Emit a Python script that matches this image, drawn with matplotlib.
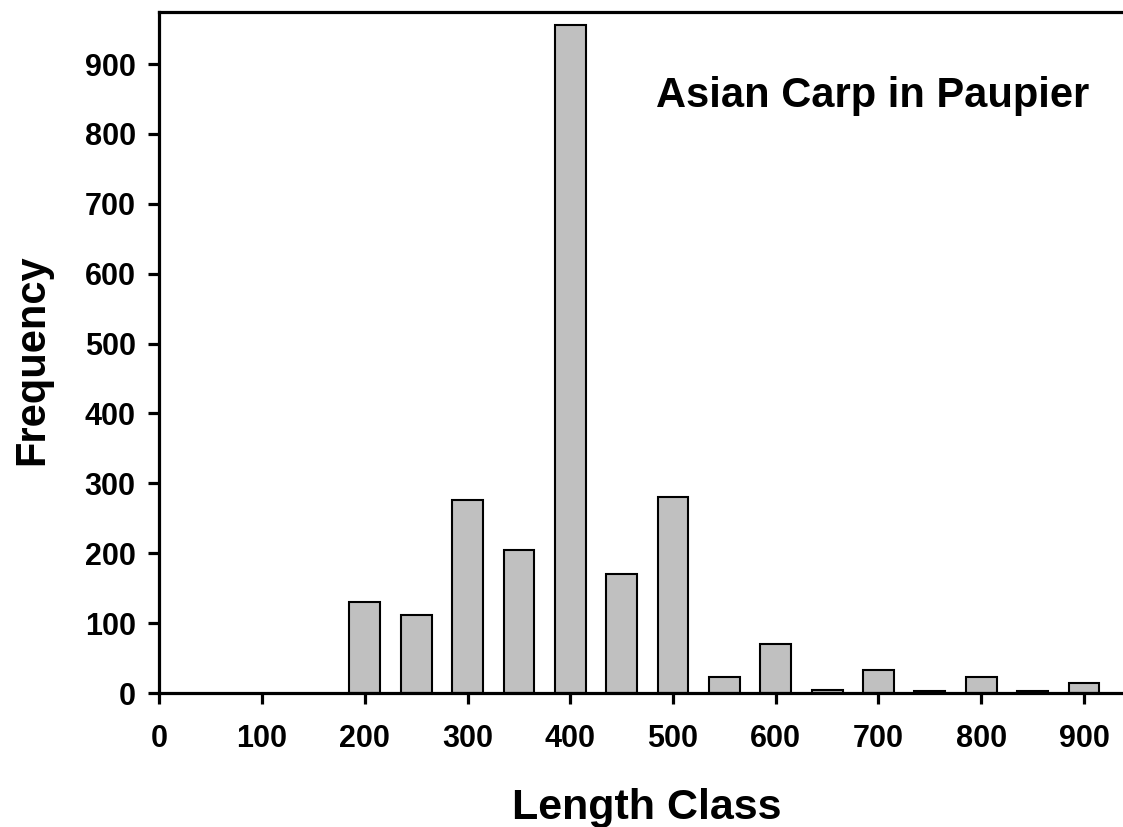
import matplotlib
matplotlib.use("Agg")
import matplotlib.pyplot as plt

# length classes (mm) and counts
length_class = [200, 250, 300, 350, 400, 450, 500, 550, 600, 650, 700, 750, 800, 850, 900]
frequency = [130, 111, 276, 205, 956, 170, 281, 23, 70, 5, 33, 3, 23, 3, 15]

xticks = [0, 100, 200, 300, 400, 500, 600, 700, 800, 900]
yticks = [0, 100, 200, 300, 400, 500, 600, 700, 800, 900]

plt.rcParams['font.family'] = ['Liberation Sans', 'DejaVu Sans']
plt.rcParams['font.weight'] = 'bold'

fig = plt.figure(figsize=(11.23, 8.27), dpi=100)
ax = fig.add_axes([0.1419, 0.1620, 0.8581, 0.8231])

ax.bar(length_class, frequency, width=30, color='#c0c0c0',
       edgecolor='black', linewidth=1.5, zorder=2)

ax.set_xlim(0, 938)
ax.set_ylim(0, 974)
ax.set_xticks(xticks)
ax.set_yticks(yticks)

for side in ['left', 'top', 'bottom']:
    ax.spines[side].set_linewidth(2.3)
ax.spines['right'].set_visible(False)

ax.tick_params(axis='both', direction='out', length=8, width=2.3,
               labelsize=22)
ax.tick_params(axis='x', pad=14)
ax.tick_params(axis='y', pad=9)
for lab in ax.get_xticklabels() + ax.get_yticklabels():
    lab.set_fontweight('bold')

ax.set_xlabel('Length Class', fontsize=31, fontweight='bold', labelpad=25)
ax.xaxis.label.set_x(0.506)
ax.set_ylabel('Frequency', fontsize=30, fontweight='bold', labelpad=23)
ax.yaxis.label.set_y(0.49)

ax.text(0.965, 0.877, 'Asian Carp in Paupier', transform=ax.transAxes,
        fontsize=30, fontweight='bold', ha='right', va='center')

fig.savefig('out.png', dpi=100)
